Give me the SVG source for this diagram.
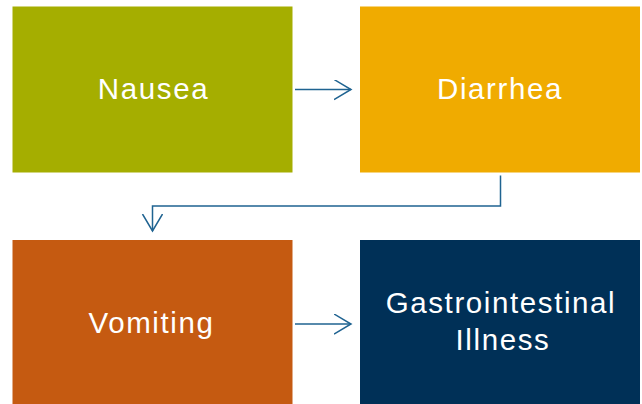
<svg xmlns="http://www.w3.org/2000/svg" width="642" height="404" viewBox="0 0 642 404">
<defs>
<style>
.lbl{font-family:"Liberation Sans",Arial,sans-serif;font-size:29.5px;letter-spacing:1.6px;fill:#ffffff;text-anchor:middle}
.con{fill:none;stroke:#1f6391;stroke-width:1.5}
</style>
<marker id="ah" markerUnits="userSpaceOnUse" markerWidth="24" markerHeight="24" refX="17" refY="10" orient="auto" viewBox="0 0 24 24">
<path d="M0,0 L17,10 L0,20" fill="none" stroke="#1f6391" stroke-width="1.5"/>
</marker>
</defs>
<rect width="642" height="404" fill="#ffffff"/>
<g id="nausea">
<rect x="12.5" y="6.5" width="280" height="166" fill="#a5ae00"/>
<text class="lbl" x="153.5" y="98.5">Nausea</text>
</g>
<g id="diarrhea">
<rect x="360" y="6.5" width="280" height="166" fill="#f0ab00"/>
<text class="lbl" x="500" y="98.5">Diarrhea</text>
</g>
<g id="vomiting">
<rect x="12.5" y="240" width="280" height="164" fill="#c55a11"/>
<text class="lbl" x="151.5" y="333">Vomiting</text>
</g>
<g id="gi">
<rect x="360" y="240" width="280" height="164" fill="#003057"/>
<text class="lbl" x="501" y="312.5">Gastrointestinal</text>
<text class="lbl" x="503" y="349.5">Illness</text>
</g>
<g id="connectors">
<path class="con" d="M295,89.5 L351,89.5" marker-end="url(#ah)"/>
<path class="con" d="M500.5,175.5 L500.5,206 L152.5,206 L152.5,231" marker-end="url(#ah)"/>
<path class="con" d="M295,324 L351,324" marker-end="url(#ah)"/>
</g>
</svg>
